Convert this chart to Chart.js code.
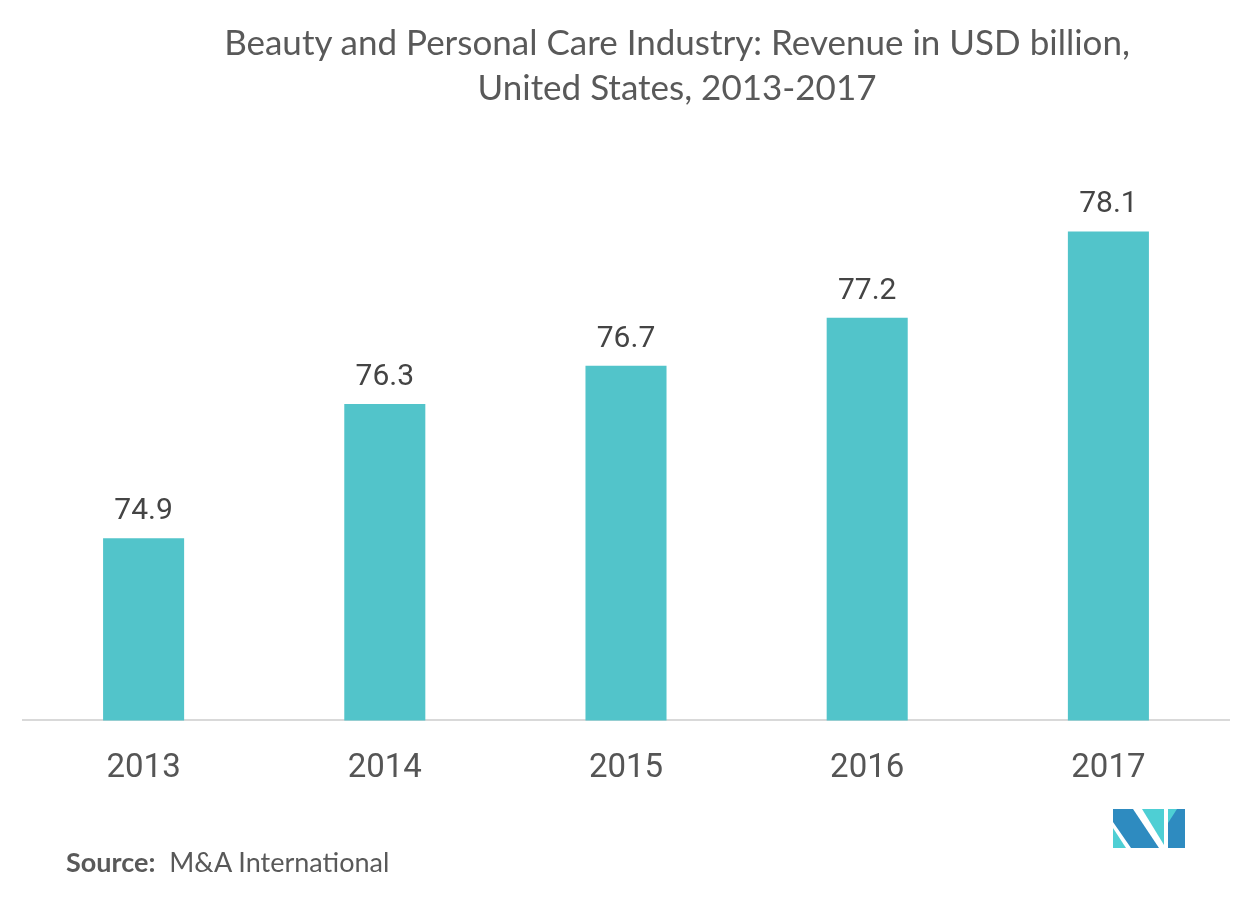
<!DOCTYPE html>
<html>
<head>
<meta charset="utf-8">
<script src="https://cdn.jsdelivr.net/npm/chart.js@4"></script>
<style>
  html, body { margin: 0; padding: 0; background: #fff; }
  #wrap { position: relative; width: 1252px; height: 899px; overflow: hidden; }
  #chart { position: absolute; left: 0; top: 0; }
  #title {
    position: absolute; left: 102px; top: 19px; width: 1150px;
    text-align: center; font-family: Lato, sans-serif; font-size: 35px;
    line-height: 45px; color: #595959;
  }
  #source {
    position: absolute; left: 66px; top: 847px;
    font-family: Lato, sans-serif; font-size: 27px; line-height: 30px; color: #595959;
  }
  #source b { font-weight: 700; }
  #logo { position: absolute; left: 1113px; top: 809px; }
</style>
</head>
<body>
<div id="wrap">
  <canvas id="chart" width="1252" height="899"></canvas>
  <div id="title">Beauty and Personal Care Industry: Revenue in USD billion,<br>United States, 2013-2017</div>
  <div id="source"><b>Source:</b>&nbsp; M&amp;A International</div>
  <svg id="logo" width="73" height="40" viewBox="0 0 73 40">
    <polygon points="0,0 20,0 46,39 18,39 0,13" fill="#2e8bc0"/>
    <polygon points="0,19 0,39 13,39" fill="#4ecfd4"/>
    <polygon points="29,0 51,0 51,36" fill="#4ecfd4"/>
    <polygon points="55,0 72,0 72,39 55,39" fill="#2e8bc0"/>
    <polygon points="55,0 64,0 55,14" fill="#4ecfd4"/>
  </svg>
</div>
<script>
const years = ['2013', '2014', '2015', '2016', '2017'];
const revenue = [74.9, 76.3, 76.7, 77.2, 78.1];

// value labels above bars
const barLabels = {
  id: 'barLabels',
  afterDatasetsDraw(chart) {
    const ctx = chart.ctx;
    const meta = chart.getDatasetMeta(0);
    ctx.save();
    ctx.font = '30px Roboto';
    ctx.fillStyle = '#444444';
    ctx.textAlign = 'center';
    ctx.textBaseline = 'alphabetic';
    meta.data.forEach((bar, i) => {
      ctx.fillText(revenue[i].toFixed(1), bar.x, bar.y - 19);
    });
    ctx.restore();
  }
};

new Chart(document.getElementById('chart'), {
  type: 'bar',
  data: {
    labels: years,
    datasets: [{
      data: revenue,
      backgroundColor: '#52c4ca',
      barPercentage: 0.336,
      categoryPercentage: 1
    }]
  },
  options: {
    responsive: false,
    animation: false,
    layout: { padding: { left: 23, right: 23, top: 150, bottom: 81 } },
    plugins: {
      legend: { display: false },
      title: { display: false },
      tooltip: { enabled: false }
    },
    scales: {
      x: {
        grid: { display: false, drawTicks: false },
        border: { display: true, color: '#d9d9d9', width: 2 },
        ticks: {
          padding: 29,
          color: '#555555',
          font: { family: 'Roboto', size: 33 }
        }
      },
      y: {
        display: false,
        min: 73,
        max: 78.95
      }
    }
  },
  plugins: [barLabels]
});
</script>
</body>
</html>
